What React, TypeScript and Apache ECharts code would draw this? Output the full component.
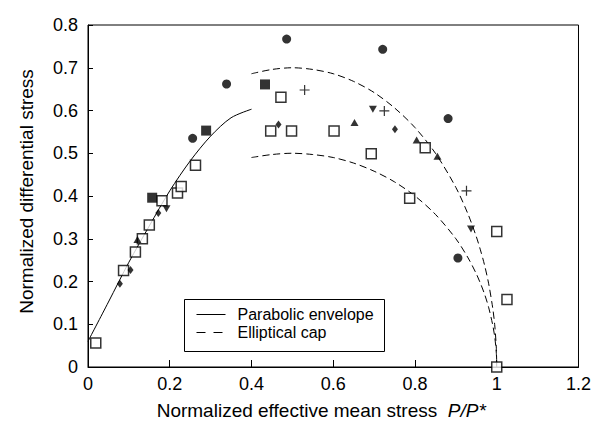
import React, { useEffect, useRef } from "react";
import * as echarts from "echarts";

const FONT = "'Liberation Sans', Arial, Helvetica, sans-serif";

// Axis settings
const X_MIN = 0;
const X_MAX = 1.2;
const X_STEP = 0.2;
const Y_MIN = 0;
const Y_MAX = 0.8;
const Y_STEP = 0.1;

// Legend labels
const legendLabels = ["Parabolic envelope", "Elliptical cap"];

// Curves
const envelopeX = [0, 0.05, 0.1, 0.15, 0.2, 0.25, 0.3, 0.35, 0.4];
const envelopeY = [0.06, 0.152, 0.245, 0.33, 0.412, 0.482, 0.54, 0.583, 0.603];

const capX = [0.4, 0.45, 0.5, 0.55, 0.6, 0.65, 0.7, 0.75, 0.8, 0.85, 0.9, 0.93, 0.95, 0.96, 0.97, 0.98, 0.99, 0.995, 0.999, 1.0];
const outerCapY = [0.686, 0.696, 0.7, 0.696, 0.686, 0.668, 0.642, 0.606, 0.56, 0.5, 0.42, 0.357, 0.305, 0.274, 0.239, 0.196, 0.139, 0.099, 0.044, 0];
const innerCapY = [0.49, 0.497, 0.5, 0.497, 0.49, 0.477, 0.458, 0.433, 0.4, 0.357, 0.3, 0.255, 0.218, 0.196, 0.171, 0.14, 0.099, 0.071, 0.032, 0];

// Data points [P/P*, q]
const openSquares = [
  [0.019, 0.056], [0.087, 0.226], [0.116, 0.269], [0.133, 0.3], [0.15, 0.332],
  [0.181, 0.389], [0.219, 0.407], [0.228, 0.422], [0.263, 0.472], [0.447, 0.552],
  [0.472, 0.631], [0.498, 0.552], [0.602, 0.552], [0.693, 0.499], [0.825, 0.513],
  [0.787, 0.395], [1.0, 0.317], [1.025, 0.158], [1.0, 0.0],
];
const filledSquares = [[0.157, 0.396], [0.289, 0.553], [0.433, 0.661]];
const filledCircles = [[0.256, 0.535], [0.339, 0.662], [0.486, 0.767], [0.721, 0.743], [0.881, 0.581], [0.905, 0.255]];
const diamonds = [[0.078, 0.195], [0.104, 0.227], [0.172, 0.36], [0.466, 0.567], [0.751, 0.556]];
const trianglesUp = [[0.121, 0.298], [0.652, 0.572], [0.804, 0.531], [0.855, 0.493]];
const trianglesDown = [[0.192, 0.37], [0.697, 0.603], [0.937, 0.323]];
const plusSigns = [[0.53, 0.648], [0.725, 0.599], [0.926, 0.412]];

const zip = (xs: number[], ys: number[]) => xs.map((x, i) => [x, ys[i]]);

export default function App() {
  const ref = useRef<HTMLDivElement>(null);
  useEffect(() => {
    document.body.style.margin = "0";
    if (!ref.current) return;
    const chart = echarts.init(ref.current, undefined, { renderer: "svg" });
    const scatterBase = { type: "scatter", z: 5, silent: true };
    chart.setOption({
      animation: false,
      backgroundColor: "#fff",
      textStyle: { fontFamily: FONT },
      grid: { left: 88, right: 13, top: 25, bottom: 63, show: true, borderColor: "#000", borderWidth: 1 },
      xAxis: {
        type: "value",
        min: X_MIN,
        max: X_MAX,
        interval: X_STEP,
        name: "Normalized effective mean stress  {i|P/P*}",
        nameLocation: "middle",
        nameGap: 34,
        nameTextStyle: {
          color: "#000",
          fontSize: 19,
          fontFamily: FONT,
          padding: [0, 24, 0, 0],
          rich: { i: { fontStyle: "italic", fontSize: 19, fontFamily: FONT, color: "#000" } },
        },
        axisLine: { lineStyle: { color: "#000", width: 1 } },
        axisTick: { inside: true, length: 7, lineStyle: { color: "#000" } },
        axisLabel: { color: "#000", fontSize: 18, margin: 8, fontFamily: FONT },
        splitLine: { show: false },
      },
      yAxis: {
        type: "value",
        min: Y_MIN,
        max: Y_MAX,
        interval: Y_STEP,
        name: "Normalized differential stress",
        nameLocation: "middle",
        nameRotate: 90,
        nameGap: 52,
        nameTextStyle: { color: "#000", fontSize: 19, fontFamily: FONT, padding: [0, 0, 0, 9] },
        axisLine: { lineStyle: { color: "#000", width: 1 } },
        axisTick: { inside: true, length: 5, lineStyle: { color: "#000" } },
        axisLabel: { color: "#000", fontSize: 18, margin: 10, fontFamily: FONT },
        splitLine: { show: false },
      },
      graphic: [
        {
          type: "group",
          left: 184,
          top: 299,
          z: 100,
          children: [
            { type: "rect", shape: { x: 0, y: 0, width: 200, height: 52 }, style: { fill: "#fff", stroke: "#000", lineWidth: 1 } },
            { type: "line", shape: { x1: 12, y1: 15, x2: 41, y2: 15 }, style: { stroke: "#000", lineWidth: 1 } },
            { type: "line", shape: { x1: 12, y1: 33, x2: 42, y2: 33 }, style: { stroke: "#000", lineWidth: 1, lineDash: [9, 8] } },
            { type: "text", x: 53, y: 15, style: { text: legendLabels[0], font: `16px ${FONT}`, fill: "#000", textVerticalAlign: "middle", verticalAlign: "middle" } },
            { type: "text", x: 53, y: 33, style: { text: legendLabels[1], font: `16px ${FONT}`, fill: "#000", textVerticalAlign: "middle", verticalAlign: "middle" } },
          ],
        },
      ],
      series: [
        {
          type: "line",
          data: zip(envelopeX, envelopeY),
          smooth: 0.3,
          showSymbol: false,
          lineStyle: { color: "#000", width: 1 },
          z: 2,
          silent: true,
        },
        {
          type: "line",
          data: zip(capX, outerCapY),
          smooth: 0.3,
          showSymbol: false,
          lineStyle: { color: "#000", width: 1, type: [7, 4] },
          z: 2,
          silent: true,
        },
        {
          type: "line",
          data: zip(capX, innerCapY),
          smooth: 0.3,
          showSymbol: false,
          lineStyle: { color: "#000", width: 1, type: [7, 4] },
          z: 2,
          silent: true,
        },
        { ...scatterBase, data: openSquares, symbol: "rect", symbolSize: 10, itemStyle: { color: "#fff", borderColor: "#000", borderWidth: 1.5 } },
        { ...scatterBase, data: filledSquares, symbol: "rect", symbolSize: 10, itemStyle: { color: "#000" } },
        { ...scatterBase, data: filledCircles, symbol: "circle", symbolSize: 9, itemStyle: { color: "#000" } },
        { ...scatterBase, data: diamonds, symbol: "diamond", symbolSize: [6, 8], itemStyle: { color: "#000" } },
        { ...scatterBase, data: trianglesUp, symbol: "triangle", symbolSize: [8, 7], itemStyle: { color: "#000" } },
        { ...scatterBase, data: trianglesDown, symbol: "triangle", symbolRotate: 180, symbolSize: [8, 7], itemStyle: { color: "#000" } },
        {
          ...scatterBase,
          data: plusSigns,
          symbol: "path://M0,5L10,5M5,0L5,10",
          symbolSize: 10,
          itemStyle: { color: "none", borderColor: "#000", borderWidth: 1.2 },
        },
      ],
    });
    return () => chart.dispose();
  }, []);
  return <div ref={ref} style={{ position: "absolute", left: 0, top: 0, width: 594, height: 430 }} />;
}
